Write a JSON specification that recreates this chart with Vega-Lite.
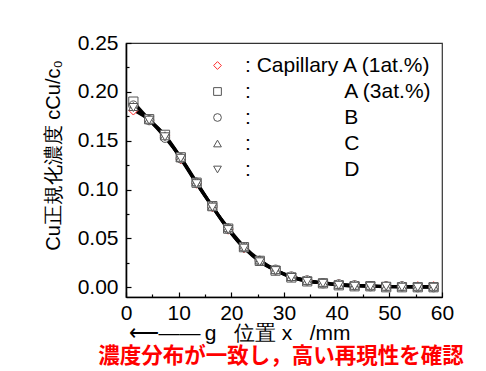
{
  "$schema": "https://vega.github.io/schema/vega-lite/v6.json",
  "width": 316,
  "height": 254,
  "autosize": {"type": "none"},
  "padding": {"left": 126, "top": 43, "right": 44, "bottom": 74},
  "background": "white",
  "config": {
    "view": {"stroke": "#333333", "strokeWidth": 1.2},
    "font": "Liberation Sans",
    "axis": {
      "domainColor": "black", "domainWidth": 1.6,
      "tickColor": "black", "tickWidth": 1.2,
      "labelFont": "Liberation Sans", "labelFontSize": 21, "labelColor": "black",
      "titleFont": "Liberation Sans", "titleFontSize": 20, "titleFontWeight": "normal", "titleColor": "black",
      "grid": false
    }
  },
  "title": {
    "text": "濃度分布が一致し，高い再現性を確認",
    "orient": "bottom",
    "font": "Noto Sans CJK JP",
    "fontSize": 21.5,
    "fontWeight": "bold",
    "color": "#ff0000",
    "offset": 0,
    "dy": 3,
    "dx": -3
  },
  "data": {
    "values": [
      {"x": 1.4, "y": 0.181, "s": "A1"}, {"x": 4.4, "y": 0.171, "s": "A1"}, {"x": 7.4, "y": 0.155, "s": "A1"}, {"x": 10.4, "y": 0.131, "s": "A1"}, {"x": 13.4, "y": 0.106, "s": "A1"}, {"x": 16.4, "y": 0.082, "s": "A1"}, {"x": 19.4, "y": 0.059, "s": "A1"}, {"x": 22.4, "y": 0.040, "s": "A1"}, {"x": 25.4, "y": 0.027, "s": "A1"}, {"x": 28.4, "y": 0.017, "s": "A1"}, {"x": 31.4, "y": 0.011, "s": "A1"}, {"x": 34.4, "y": 0.007, "s": "A1"}, {"x": 37.4, "y": 0.004, "s": "A1"}, {"x": 40.4, "y": 0.003, "s": "A1"}, {"x": 43.4, "y": 0.002, "s": "A1"}, {"x": 46.4, "y": 0.001, "s": "A1"}, {"x": 49.4, "y": 0.001, "s": "A1"}, {"x": 52.4, "y": 0.001, "s": "A1"}, {"x": 55.4, "y": 0.001, "s": "A1"}, {"x": 58.4, "y": 0.001, "s": "A1"},
      {"x": 1.4, "y": 0.190, "s": "A3"}, {"x": 4.4, "y": 0.172, "s": "A3"}, {"x": 7.4, "y": 0.156, "s": "A3"}, {"x": 10.4, "y": 0.133, "s": "A3"}, {"x": 13.4, "y": 0.107, "s": "A3"}, {"x": 16.4, "y": 0.083, "s": "A3"}, {"x": 19.4, "y": 0.060, "s": "A3"}, {"x": 22.4, "y": 0.041, "s": "A3"}, {"x": 25.4, "y": 0.027, "s": "A3"}, {"x": 28.4, "y": 0.017, "s": "A3"}, {"x": 31.4, "y": 0.010, "s": "A3"}, {"x": 34.4, "y": 0.006, "s": "A3"}, {"x": 37.4, "y": 0.004, "s": "A3"}, {"x": 40.4, "y": 0.002, "s": "A3"}, {"x": 43.4, "y": 0.001, "s": "A3"}, {"x": 46.4, "y": 0.001, "s": "A3"}, {"x": 49.4, "y": 0.000, "s": "A3"}, {"x": 52.4, "y": 0.000, "s": "A3"}, {"x": 55.4, "y": 0.000, "s": "A3"}, {"x": 58.4, "y": 0.000, "s": "A3"},
      {"x": 1.4, "y": 0.186, "s": "B"}, {"x": 4.4, "y": 0.171, "s": "B"}, {"x": 7.4, "y": 0.153, "s": "B"}, {"x": 10.4, "y": 0.132, "s": "B"}, {"x": 13.4, "y": 0.107, "s": "B"}, {"x": 16.4, "y": 0.083, "s": "B"}, {"x": 19.4, "y": 0.060, "s": "B"}, {"x": 22.4, "y": 0.041, "s": "B"}, {"x": 25.4, "y": 0.027, "s": "B"}, {"x": 28.4, "y": 0.018, "s": "B"}, {"x": 31.4, "y": 0.011, "s": "B"}, {"x": 34.4, "y": 0.007, "s": "B"}, {"x": 37.4, "y": 0.004, "s": "B"}, {"x": 40.4, "y": 0.003, "s": "B"}, {"x": 43.4, "y": 0.002, "s": "B"}, {"x": 46.4, "y": 0.001, "s": "B"}, {"x": 49.4, "y": 0.001, "s": "B"}, {"x": 52.4, "y": 0.001, "s": "B"}, {"x": 55.4, "y": 0.000, "s": "B"}, {"x": 58.4, "y": 0.000, "s": "B"},
      {"x": 1.4, "y": 0.185, "s": "C"}, {"x": 4.4, "y": 0.172, "s": "C"}, {"x": 7.4, "y": 0.155, "s": "C"}, {"x": 10.4, "y": 0.133, "s": "C"}, {"x": 13.4, "y": 0.108, "s": "C"}, {"x": 16.4, "y": 0.083, "s": "C"}, {"x": 19.4, "y": 0.061, "s": "C"}, {"x": 22.4, "y": 0.042, "s": "C"}, {"x": 25.4, "y": 0.028, "s": "C"}, {"x": 28.4, "y": 0.018, "s": "C"}, {"x": 31.4, "y": 0.011, "s": "C"}, {"x": 34.4, "y": 0.007, "s": "C"}, {"x": 37.4, "y": 0.005, "s": "C"}, {"x": 40.4, "y": 0.003, "s": "C"}, {"x": 43.4, "y": 0.002, "s": "C"}, {"x": 46.4, "y": 0.002, "s": "C"}, {"x": 49.4, "y": 0.001, "s": "C"}, {"x": 52.4, "y": 0.001, "s": "C"}, {"x": 55.4, "y": 0.001, "s": "C"}, {"x": 58.4, "y": 0.001, "s": "C"},
      {"x": 1.4, "y": 0.184, "s": "D"}, {"x": 4.4, "y": 0.171, "s": "D"}, {"x": 7.4, "y": 0.154, "s": "D"}, {"x": 10.4, "y": 0.132, "s": "D"}, {"x": 13.4, "y": 0.106, "s": "D"}, {"x": 16.4, "y": 0.082, "s": "D"}, {"x": 19.4, "y": 0.059, "s": "D"}, {"x": 22.4, "y": 0.040, "s": "D"}, {"x": 25.4, "y": 0.026, "s": "D"}, {"x": 28.4, "y": 0.017, "s": "D"}, {"x": 31.4, "y": 0.010, "s": "D"}, {"x": 34.4, "y": 0.006, "s": "D"}, {"x": 37.4, "y": 0.004, "s": "D"}, {"x": 40.4, "y": 0.002, "s": "D"}, {"x": 43.4, "y": 0.001, "s": "D"}, {"x": 46.4, "y": 0.001, "s": "D"}, {"x": 49.4, "y": 0.001, "s": "D"}, {"x": 52.4, "y": 0.000, "s": "D"}, {"x": 55.4, "y": 0.000, "s": "D"}, {"x": 58.4, "y": 0.000, "s": "D"}
    ]
  },
  "encoding": {
    "x": {
      "field": "x", "type": "quantitative",
      "scale": {"domain": [0, 60], "nice": false, "zero": false},
      "axis": {
        "values": [0, 5, 10, 15, 20, 25, 30, 35, 40, 45, 50, 55, 60],
        "labelExpr": "datum.value % 10 == 0 ? datum.label : ''",
        "tickSize": {"condition": {"test": "datum.value % 10 == 0", "value": -5}, "value": -3},
        "labelPadding": 10,
        "labelFlush": false,
        "title": "⟵——\u2009g\u00a0\u00a0\u00a0位置\u00a0x\u00a0\u00a0\u00a0/mm",
        "titleFontSize": 21,
        "titleAnchor": "start",
        "titleAlign": "left",
        "titleX": 2,
        "titleY": 36,
        "titleBaseline": "middle"
      }
    },
    "y": {
      "field": "y", "type": "quantitative",
      "scale": {"domain": [-0.01, 0.25], "nice": false, "zero": false},
      "axis": {
        "values": [0, 0.025, 0.05, 0.075, 0.1, 0.125, 0.15, 0.175, 0.2, 0.225, 0.25],
        "format": ".2f",
        "labelExpr": "round(datum.value * 1000) % 50 == 0 ? datum.label : ''",
        "tickSize": {"condition": {"test": "round(datum.value * 1000) % 50 == 0", "value": -5}, "value": -3},
        "labelPadding": 13,
        "labelFlush": false,
        "title": "Cu正規化濃度 cCu/c₀",
        "titleX": -73,
        "titleY": 112,
        "titleAlign": "center",
        "titleBaseline": "middle"
      }
    }
  },
  "layer": [
    {
      "mark": {"type": "line", "color": "black", "strokeWidth": 2.6, "interpolate": "monotone"},
      "encoding": {"detail": {"field": "s"}}
    },
    {
      "mark": {"type": "point", "fill": "white", "fillOpacity": 1, "strokeWidth": 1, "size": 85},
      "encoding": {
        "shape": {
          "field": "s", "type": "nominal",
          "scale": {"domain": ["A1", "A3", "B", "C", "D"], "range": ["diamond", "square", "circle", "triangle-up", "triangle-down"]},
          "legend": {
            "orient": "none", "legendX": 81, "legendY": 12,
            "title": null,
            "padding": 0,
            "labelFont": "Liberation Sans", "labelFontSize": 21, "labelColor": "black",
            "labelLimit": 0,
            "labelOffset": 17,
            "rowPadding": 4,
            "symbolSize": 60,
            "symbolStrokeWidth": 1,
            "symbolFillColor": "white",
            "labelExpr": "datum.value == 'A1' ? ': Capillary A (1at.%)' : datum.value == 'A3' ? ':\u00a0\u00a0\u00a0\u00a0\u00a0\u00a0\u00a0\u00a0\u00a0\u00a0\u00a0\u00a0\u00a0\u00a0\u00a0\u00a0A (3at.%)' : ':\u00a0\u00a0\u00a0\u00a0\u00a0\u00a0\u00a0\u00a0\u00a0\u00a0\u00a0\u00a0\u00a0\u00a0\u00a0\u00a0' + datum.value"
          }
        },
        "stroke": {
          "field": "s", "type": "nominal",
          "scale": {"domain": ["A1", "A3", "B", "C", "D"], "range": ["#ff2a2a", "#555555", "#555555", "#555555", "#555555"]},
          "legend": null
        }
      }
    }
  ]
}
